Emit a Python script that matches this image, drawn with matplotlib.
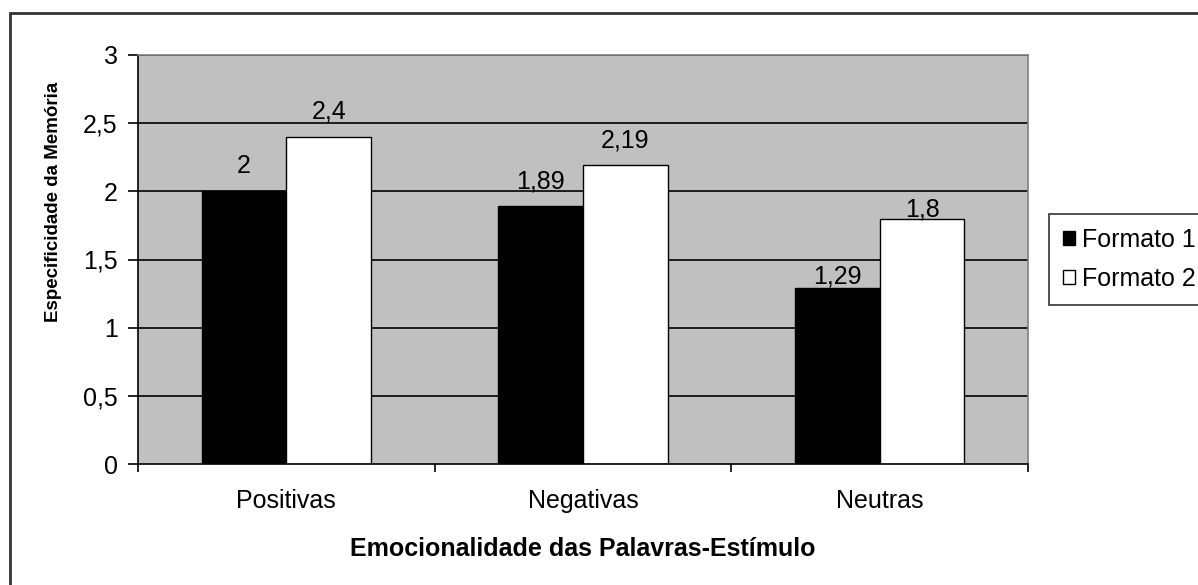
import matplotlib
matplotlib.use("Agg")
import matplotlib.pyplot as plt
import numpy as np
from matplotlib.patches import Rectangle

categories = ["Positivas", "Negativas", "Neutras"]
formato1 = [2.0, 1.89, 1.29]
formato2 = [2.4, 2.19, 1.8]
labels1 = ["2", "1,89", "1,29"]
labels2 = ["2,4", "2,19", "1,8"]
yticks = [0, 0.5, 1, 1.5, 2, 2.5, 3]
ytick_labels = ["0", "0,5", "1", "1,5", "2", "2,5", "3"]

plt.rcParams["font.family"] = ["Liberation Sans", "DejaVu Sans"]

W, H = 1198, 585
fig = plt.figure(figsize=(W / 100, H / 100), dpi=100)
ax = fig.add_axes([138 / W, 1 - 464 / H, (1028 - 138) / W, (464 - 55) / H])

# outer chart border (only left and top fall inside the image)
fig.patches.append(Rectangle((10 / W, -0.1), 1.2, 1 - 13 / H + 0.1,
                             transform=fig.transFigure, fill=False,
                             edgecolor="#333333", linewidth=2))

x = np.arange(len(categories))
bw = 1 / 3.5
ax.set_facecolor("#c0c0c0")
for v in yticks[1:]:
    ax.axhline(v, color="black", linewidth=1.2, zorder=1)
b1 = ax.bar(x - bw / 2, formato1, bw, color="black", edgecolor="black",
            linewidth=1, label="Formato 1", zorder=2)
b2 = ax.bar(x + bw / 2, formato2, bw, color="white", edgecolor="black",
            linewidth=1, label="Formato 2", zorder=2)

# data labels (offsets in points, as placed in the original)
offs1 = [9.5, 9.5, 0]
offs2 = [9.5, 9.5, -2]
for bars, labs, offs in [(b1, labels1, offs1), (b2, labels2, offs2)]:
    for bar, lab, off in zip(bars, labs, offs):
        ax.annotate(lab, (bar.get_x() + bar.get_width() / 2, bar.get_height()),
                    xytext=(0, off), textcoords="offset points",
                    ha="center", va="bottom", fontsize=18, zorder=3)

ax.set_xlim(-0.5, 2.5)
ax.set_ylim(0, 3)
ax.set_yticks(yticks)
ax.set_yticklabels(ytick_labels, fontsize=18)
ax.set_xticks([-0.5, 0.5, 1.5, 2.5])
ax.set_xticklabels([])
ax.set_xticks(x, minor=True)
ax.set_xticklabels(categories, minor=True, fontsize=18)
ax.tick_params(axis="x", which="major", length=6, width=1.2, direction="out")
ax.tick_params(axis="x", which="minor", length=0, pad=18)
ax.tick_params(axis="y", length=7.5, width=1.2, direction="out", pad=7)

for s in ["left", "bottom"]:
    ax.spines[s].set_color("black")
    ax.spines[s].set_linewidth(1.2)
for s in ["top", "right"]:
    ax.spines[s].set_color("#808080")
    ax.spines[s].set_linewidth(1.2)

ax.set_xlabel("Emocionalidade das Palavras-Estímulo", fontsize=18,
              fontweight="bold", labelpad=17)
ax.set_ylabel("Especificidade da Memória", fontsize=13.5, fontweight="bold")
ax.yaxis.set_label_coords((62 - 138) / 890, (464 - 202) / 409)

leg = fig.legend(loc="upper left", bbox_to_anchor=(1049 / W, 1 - 214 / H),
                 fontsize=18, frameon=True, fancybox=False,
                 handlelength=0.5, handleheight=0.5, handletextpad=0.25,
                 borderpad=0.55, labelspacing=0.6, borderaxespad=0)
leg.get_frame().set_edgecolor("black")
leg.get_frame().set_linewidth(1.2)

fig.savefig("out.png", dpi=100)
